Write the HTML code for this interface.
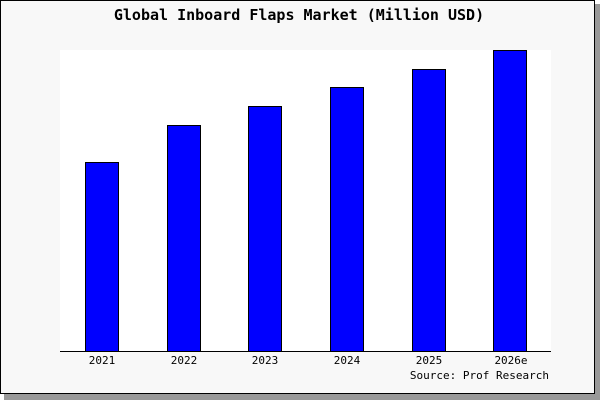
<!DOCTYPE html>
<html><head><meta charset="utf-8"><style>
body{margin:0;background:#fff;}
svg{display:block;font-family:"DejaVu Sans Mono","Liberation Mono",monospace;}
</style></head><body>
<svg width="600" height="400" xmlns="http://www.w3.org/2000/svg">
<rect x="4" y="4" width="596" height="396" fill="#999"/>
<rect x="0.5" y="0.5" width="594" height="393" fill="#f8f8f8" stroke="#000"/>
<text x="299" y="20" text-anchor="middle" font-size="15" font-weight="bold" letter-spacing="0">Global Inboard Flaps Market (Million USD)</text>
<rect x="60" y="50" width="491" height="301" fill="#fff"/>
<g fill="#0000ff" stroke="#000" stroke-width="1">
<rect x="85.5" y="162.5" width="33" height="189"/>
<rect x="167.5" y="125.5" width="33" height="226"/>
<rect x="248.5" y="106.5" width="33" height="245"/>
<rect x="330.5" y="87.5" width="33" height="264"/>
<rect x="412.5" y="69.5" width="33" height="282"/>
<rect x="493.5" y="50.5" width="33" height="301"/>
</g>
<line x1="60" y1="351.5" x2="551" y2="351.5" stroke="#000"/>
<g font-size="11" text-anchor="middle">
<text x="102" y="364">2021</text>
<text x="184" y="364">2022</text>
<text x="265" y="364">2023</text>
<text x="347" y="364">2024</text>
<text x="429" y="364">2025</text>
<text x="511" y="364">2026e</text>
<text x="549" y="379" text-anchor="end">Source: Prof Research</text>
</g>
</svg>
</body></html>
